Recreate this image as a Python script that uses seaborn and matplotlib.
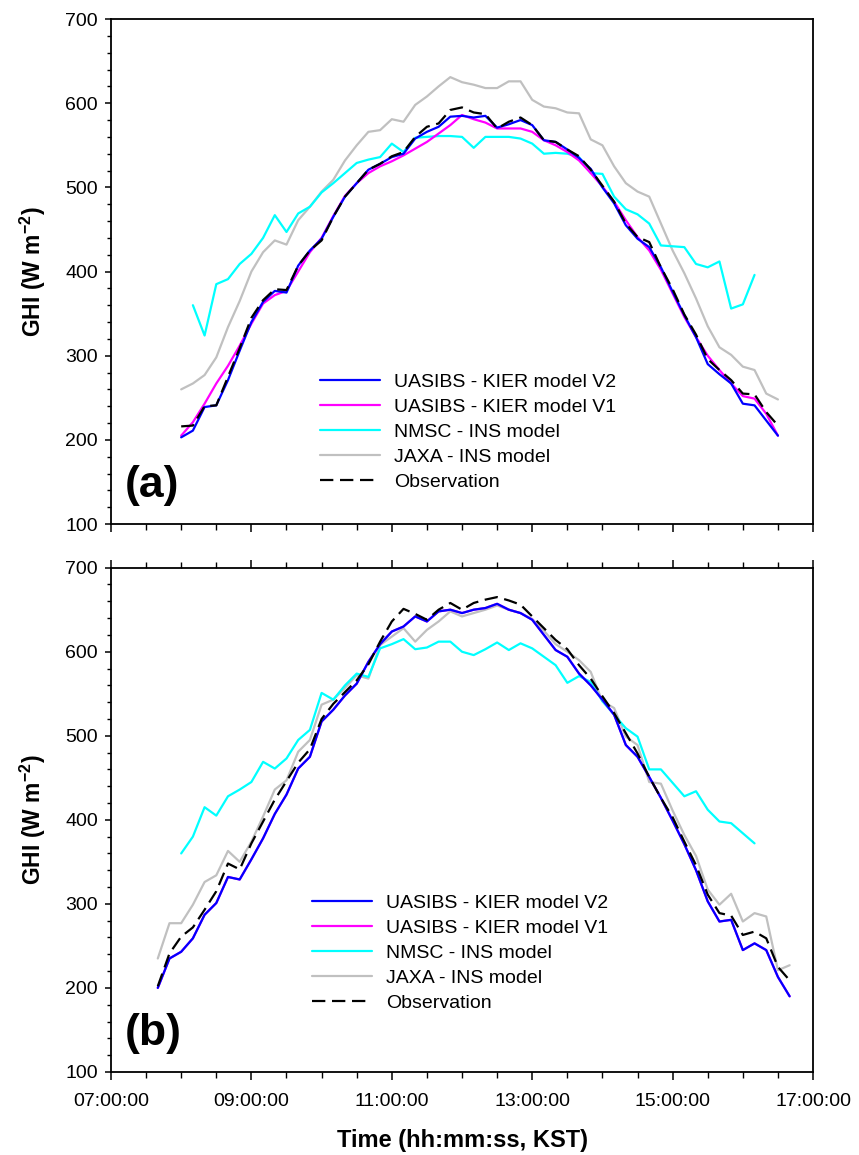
import matplotlib
matplotlib.use("Agg")
import matplotlib.dates as mdates
import matplotlib.pyplot as plt
import pandas as pd
import seaborn as sns
from matplotlib.ticker import MultipleLocator

DAY = "2021-01-01"

# ---- panel (a): 10-min values, W m-2 ----
a_span = ("08:00", "16:30")
a_nmsc_span = ("08:10", "16:10")

a_v2 = [203, 211, 239, 241, 271, 306,
        340, 364, 377, 375, 407, 425,
        439, 465, 489, 505, 521, 528,
        536, 540, 558, 566, 572, 584,
        585, 583, 585, 571, 575, 580,
        574, 556, 554, 545, 535, 522,
        500, 481, 455, 439, 429, 405,
        376, 348, 322, 290, 278, 267,
        243, 241, 223, 205]
a_v1 = [205, 221, 243, 267, 288, 312,
        338, 362, 372, 377, 400, 423,
        440, 466, 490, 505, 517, 525,
        531, 538, 546, 554, 564, 574,
        586, 581, 577, 570, 570, 570,
        566, 556, 550, 542, 532, 517,
        501, 483, 461, 441, 425, 402,
        374, 346, 322, 300, 283, 267,
        252, 249, 231, 205]
a_nmsc = [360, 324, 385, 391, 409,
          421, 440, 467, 447, 469, 477,
          494, 505, 517, 529, 533, 536,
          552, 542, 559, 560, 561, 561,
          560, 547, 560, 560, 560, 558,
          552, 540, 541, 540, 536, 517,
          516, 489, 474, 468, 457, 431,
          430, 429, 409, 405, 412, 356,
          361, 396]
a_jaxa = [260, 267, 277, 298, 334, 365,
          400, 423, 437, 432, 461, 477,
          495, 509, 532, 550, 566, 568,
          581, 578, 598, 608, 620, 631,
          625, 622, 618, 618, 626, 626,
          604, 596, 594, 589, 588, 557,
          550, 525, 505, 495, 489, 457,
          425, 398, 368, 335, 310, 301,
          287, 283, 255, 248]
a_obs = [216, 217, 240, 241, 275, 309,
         345, 366, 379, 378, 407, 425,
         437, 465, 489, 505, 521, 528,
         537, 542, 560, 572, 576, 592,
         595, 589, 587, 570, 578, 583,
         574, 556, 554, 545, 537, 521,
         502, 483, 457, 441, 435, 405,
         379, 349, 325, 296, 283, 271,
         255, 254, 233, 217]

# ---- panel (b) ----
b_span = ("07:40", "16:40")
b_nmsc_span = ("08:00", "16:10")

b_v2 = [200, 235,
        243, 259, 287, 301, 332, 329,
        353, 378, 407, 430, 461, 475,
        517, 531, 548, 562, 588, 609,
        624, 630, 642, 636, 648, 650,
        646, 650, 652, 657, 650, 646,
        638, 620, 602, 594, 574, 560,
        543, 525, 489, 475, 451, 426,
        399, 371, 340, 303, 279, 281,
        245, 253, 245, 213, 190]
# V1 coincides with V2 in (b) and is hidden beneath it
b_v1 = list(b_v2)
b_nmsc = [360, 380, 415, 405, 428, 436,
          445, 469, 461, 473, 495, 507,
          551, 543, 560, 574, 570, 604,
          609, 615, 603, 605, 612, 612,
          600, 596, 603, 611, 602, 610,
          604, 594, 584, 563, 571, 564,
          541, 525, 509, 499, 460, 460,
          444, 428, 434, 412, 398, 396,
          384, 372]
b_jaxa = [235, 277,
          277, 299, 326, 334, 363, 350,
          374, 404, 436, 447, 481, 495,
          537, 543, 557, 572, 568, 608,
          618, 628, 612, 626, 636, 648,
          642, 646, 650, 655, 650, 646,
          639, 625, 609, 600, 590, 576,
          541, 533, 499, 489, 445, 443,
          411, 382, 357, 317, 299, 312,
          279, 289, 285, 221, 227]
b_obs = [202, 241,
         261, 272, 293, 315, 348, 341,
         372, 398, 424, 446, 468, 484,
         520, 538, 552, 566, 585, 612,
         636, 651, 645, 638, 650, 658,
         650, 658, 662, 665, 661, 656,
         642, 628, 614, 603, 584, 568,
         547, 527, 503, 479, 451, 426,
         403, 374, 346, 311, 289, 286,
         263, 267, 259, 225, 209]

labels = ["UASIBS - KIER model V2", "UASIBS - KIER model V1",
          "NMSC - INS model", "JAXA - INS model", "Observation"]
colors = ["#0000ff", "#ff00ff", "#00ffff", "#c0c0c0", "black"]
zorders = [4, 3, 2.5, 2, 5]


def clock(span):
    return pd.date_range(f"{DAY} {span[0]}", f"{DAY} {span[1]}", freq="10min")


def draw_panel(ax, series, spans, tag, legend_xy, bottom_labels):
    for lab, vals, span, col, z in zip(labels, series, spans, colors, zorders):
        ls = (0, (6, 3)) if lab == "Observation" else "-"
        sns.lineplot(x=clock(span), y=vals, ax=ax, color=col, lw=1.6,
                     linestyle=ls, label=lab, zorder=z)

    ax.set_xlim(pd.Timestamp(f"{DAY} 07:00"), pd.Timestamp(f"{DAY} 17:00"))
    ax.set_ylim(100, 700)
    ax.yaxis.set_major_locator(MultipleLocator(100))
    ax.yaxis.set_minor_locator(MultipleLocator(20))
    ax.xaxis.set_major_locator(mdates.HourLocator(byhour=range(7, 18, 2)))
    ax.xaxis.set_minor_locator(mdates.MinuteLocator(byminute=[0, 30]))
    ax.xaxis.set_major_formatter(mdates.DateFormatter("%H:%M:%S"))

    ax.tick_params(axis="y", which="major", direction="out", length=4.5,
                   width=1.1, labelsize=14, pad=5)
    ax.tick_params(axis="y", which="minor", direction="out", length=3, width=1)
    ax.tick_params(axis="x", which="major", direction="out", length=6,
                   width=1.1, labelsize=14, pad=9)
    ax.tick_params(axis="x", which="minor", direction="out", length=4, width=1)
    if bottom_labels:
        ax.tick_params(axis="x", which="both", top=True, bottom=True,
                       labelbottom=True, labeltop=False)
    else:
        ax.tick_params(axis="x", which="both", top=False, bottom=True,
                       labelbottom=False)
    for sp in ax.spines.values():
        sp.set_linewidth(1.3)
        sp.set_color("black")

    ax.set_ylabel(r"GHI (W m$^{\mathbf{-2}}$)", fontsize=16.5, fontweight="bold",
                  labelpad=12)
    ax.set_xlabel("")
    ax.text(0.02, 0.077, tag, transform=ax.transAxes, fontsize=32,
            fontweight="bold", va="center", ha="left")
    ax.legend(loc="upper left", bbox_to_anchor=legend_xy, frameon=False,
              fontsize=14, handlelength=3.1, handletextpad=0.7,
              labelspacing=0.38, borderpad=0, borderaxespad=0)


sns.set_style("ticks")
plt.rcParams["font.family"] = ["Liberation Sans", "DejaVu Sans"]
plt.rcParams["mathtext.fontset"] = "custom"
plt.rcParams["mathtext.rm"] = "Liberation Sans"
plt.rcParams["mathtext.bf"] = "Liberation Sans:bold"
for key in ["text.color", "axes.labelcolor", "xtick.color", "ytick.color"]:
    plt.rcParams[key] = "black"

fig = plt.figure(figsize=(8.59, 11.55), dpi=100)
ax_a = fig.add_axes([0.1292, 0.5463, 0.8173, 0.4372])
ax_b = fig.add_axes([0.1292, 0.0719, 0.8173, 0.4366])

draw_panel(ax_a, [a_v2, a_v1, a_nmsc, a_jaxa, a_obs],
           [a_span, a_span, a_nmsc_span, a_span, a_span],
           "(a)", (0.298, 0.298), False)
draw_panel(ax_b, [b_v2, b_v1, b_nmsc, b_jaxa, b_obs],
           [b_span, b_span, b_nmsc_span, b_span, b_span],
           "(b)", (0.286, 0.353), True)

ax_b.set_xlabel("Time (hh:mm:ss, KST)", fontsize=17, fontweight="bold",
                labelpad=14)

fig.savefig("out.png", dpi=100, facecolor="white")
